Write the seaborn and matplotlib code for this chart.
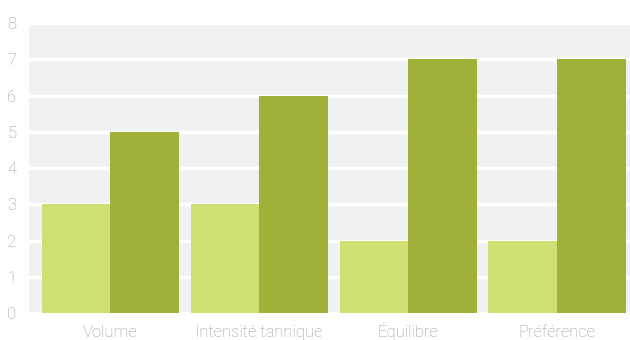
import matplotlib
matplotlib.use("Agg")
import matplotlib.pyplot as plt
import pandas as pd
import seaborn as sns

categories = ["Volume", "Intensité tannique", "Équilibre", "Préférence"]
series_names = ["Série 1", "Série 2"]
values_light = [3, 3, 2, 2]
values_dark = [5, 6, 7, 7]
y_ticks = [0, 1, 2, 3, 4, 5, 6, 7, 8]

PALETTE = {"Série 1": "#cfdf72", "Série 2": "#a0b038"}
BG = "#f0f1f3"
TEXT = "#9a9a9e"

df = pd.DataFrame({
    "categorie": categories * 2,
    "serie": [series_names[0]] * 4 + [series_names[1]] * 4,
    "valeur": values_light + values_dark,
})

sns.set_theme(style="white")
plt.rcParams["font.family"] = ["Roboto", "DejaVu Sans"]

fig = plt.figure(figsize=(6.3, 3.4), dpi=100)
ax = fig.add_axes([0.046, 0.079, 0.954, 0.853])
ax.set_facecolor(BG)

sns.barplot(
    data=df, x="categorie", y="valeur", hue="serie", palette=PALETTE,
    width=0.92, gap=0, saturation=1, legend=False, ax=ax, zorder=3,
    linewidth=0,
)

ax.set_ylim(0, 8)
ax.set_xlim(-0.545, 3.49)
ax.set_yticks(y_ticks)
ax.yaxis.grid(True, color="white", linewidth=2.5, zorder=1)
ax.set_axisbelow(True)
for s in ax.spines.values():
    s.set_visible(False)
ax.tick_params(axis="both", length=0, colors=TEXT, labelsize=12)
ax.tick_params(axis="x", pad=17)
ax.tick_params(axis="y", pad=9)
for lab in ax.get_xticklabels() + ax.get_yticklabels():
    lab.set_fontweight("light")
for lab in ax.get_xticklabels():
    lab.set_verticalalignment("baseline")
ax.set_xlabel("")
ax.set_ylabel("")

fig.savefig("out.png", dpi=100)
